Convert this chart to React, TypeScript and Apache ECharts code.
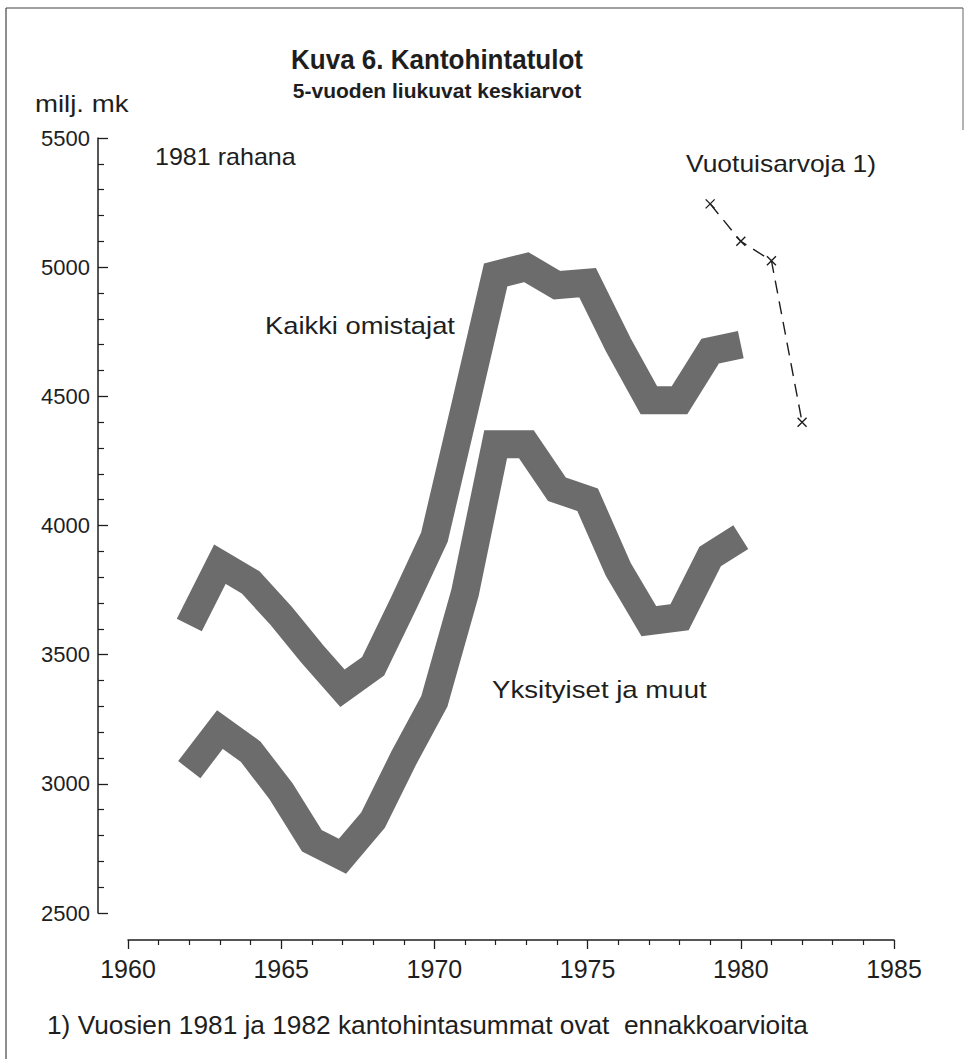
import React, { useEffect, useRef } from "react";
import * as echarts from "echarts";

const years = [1962, 1963, 1964, 1965, 1966, 1967, 1968, 1969, 1970, 1971, 1972, 1973, 1974, 1975, 1976, 1977, 1978, 1979, 1980];
const kaikkiOmistajat = [3615, 3850, 3780, 3650, 3505, 3370, 3455, 3700, 3955, 4460, 4970, 5000, 4930, 4940, 4700, 4485, 4485, 4675, 4700];
const yksityisetJaMuut = [3055, 3210, 3125, 2970, 2780, 2720, 2860, 3100, 3320, 3740, 4315, 4315, 4140, 4100, 3830, 3630, 3645, 3880, 3955];
const vuotuisYears = [1979, 1980, 1981, 1982];
const vuotuisarvot = [5245, 5100, 5025, 4400];

const X_MIN = 1960, X_MAX = 1985, X_STEP = 5;
const Y_MIN = 2500, Y_MAX = 5500, Y_STEP = 500;

const titleText = "Kuva 6. Kantohintatulot";
const subtitleText = "5-vuoden liukuvat keskiarvot";
const unitText = "milj. mk";
const noteRahana = "1981 rahana";
const labelVuotuis = "Vuotuisarvoja 1)";
const labelKaikki = "Kaikki omistajat";
const labelYksityiset = "Yksityiset ja muut";
const footnote = "1) Vuosien 1981 ja 1982 kantohintasummat ovat  ennakkoarvioita";

const BAND = "#6c6c6c";
const INK = "#1e1e1e";
const SANS = "'Liberation Sans', Arial, sans-serif";

export default function App() {
  const ref = useRef<HTMLDivElement>(null);
  useEffect(() => {
    document.body.style.margin = "0";
    const chart = echarts.init(ref.current!, null, { renderer: "svg" });
    const txt = (x: number, y: number, text: string, size: number, sx: number, weight = "normal", align = "left") => ({
      type: "text",
      x,
      y,
      scaleX: sx,
      style: { text, fontSize: size, fontFamily: SANS, fontWeight: weight, fill: INK, textAlign: align, textVerticalAlign: "middle" },
      z: 10,
    });
    chart.setOption({
      animation: false,
      backgroundColor: "#ffffff",
      grid: { left: 128, right: 74, top: 138, bottom: 146 },
      xAxis: {
        type: "value",
        min: X_MIN,
        max: X_MAX,
        interval: X_STEP,
        offset: 27,
        axisLine: { show: true, lineStyle: { color: INK, width: 1.5 } },
        axisTick: { show: true, inside: false, length: 9, lineStyle: { color: INK, width: 1.3 } },
        minorTick: { show: true, splitNumber: 5, length: 5, lineStyle: { color: INK, width: 1.2 } },
        splitLine: { show: false },
        axisLabel: { fontSize: 25, fontFamily: SANS, color: INK, margin: 16, formatter: (v: number) => String(v) },
      },
      yAxis: {
        type: "value",
        min: Y_MIN,
        max: Y_MAX,
        interval: Y_STEP,
        offset: 30,
        axisLine: { show: true, lineStyle: { color: INK, width: 1.5 } },
        axisTick: { show: true, inside: true, length: 10, lineStyle: { color: INK, width: 1.3 } },
        minorTick: { show: true, splitNumber: 5, length: 6, lineStyle: { color: INK, width: 1.2 } },
        splitLine: { show: false },
        axisLabel: { fontSize: 22, fontFamily: SANS, color: INK, margin: 8, formatter: (v: number) => String(v) },
      },
      series: [
        {
          name: labelKaikki,
          type: "line",
          data: years.map((y, i) => [y, kaikkiOmistajat[i]]),
          showSymbol: false,
          symbol: "none",
          lineStyle: { color: BAND, width: 28, join: "miter", cap: "butt", miterLimit: 10 },
        },
        {
          name: labelYksityiset,
          type: "line",
          data: years.map((y, i) => [y, yksityisetJaMuut[i]]),
          showSymbol: false,
          symbol: "none",
          lineStyle: { color: BAND, width: 28, join: "miter", cap: "butt", miterLimit: 10 },
        },
        {
          name: labelVuotuis,
          type: "line",
          data: vuotuisYears.map((y, i) => [y, vuotuisarvot[i]]),
          symbol: "path://M0,0L10,10M10,0L0,10",
          symbolSize: 9,
          itemStyle: { color: "none", borderColor: INK, borderWidth: 1.4 },
          lineStyle: { color: INK, width: 1.4, type: [13, 8] },
        },
      ],
      graphic: [
        { type: "line", shape: { x1: 6, y1: 8, x2: 963, y2: 8 }, style: { stroke: "#444", lineWidth: 1.2 } },
        { type: "line", shape: { x1: 6, y1: 8, x2: 6, y2: 1059 }, style: { stroke: "#444", lineWidth: 1.2 } },
        { type: "line", shape: { x1: 963, y1: 8, x2: 963, y2: 130 }, style: { stroke: "#666", lineWidth: 1 } },
        txt(437, 60, titleText, 28, 0.93, "bold", "center"),
        txt(437, 90, subtitleText, 21, 1, "bold", "center"),
        txt(35, 104, unitText, 23, 1.2),
        txt(155, 157, noteRahana, 23, 1.09),
        txt(686, 164, labelVuotuis, 23, 1.15),
        txt(265, 326, labelKaikki, 24, 1.14),
        txt(492, 690, labelYksityiset, 24, 1.15),
        txt(47, 1025, footnote, 26, 1.01),
      ],
    });
    return () => chart.dispose();
  }, []);
  return <div ref={ref} style={{ position: "fixed", left: 0, top: 0, width: 968, height: 1059 }} />;
}
